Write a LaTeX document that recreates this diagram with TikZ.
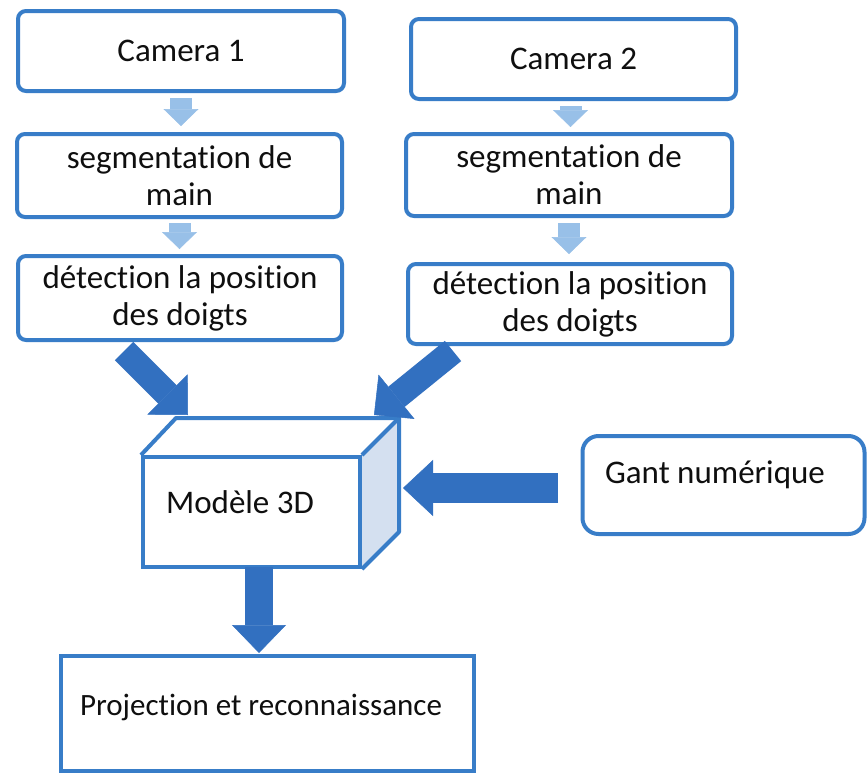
\documentclass[tikz,border=0pt]{standalone}
\usepackage{fontspec}
\setmainfont{Carlito}[Ligatures=NoCommon]
\usetikzlibrary{arrows.meta,calc}
\definecolor{boxblue}{RGB}{56,125,200}
\definecolor{arrowblue}{RGB}{50,112,192}
\definecolor{lightarrow}{RGB}{152,192,232}
\definecolor{sideface}{RGB}{212,224,240}
\definecolor{txt}{RGB}{15,15,15}
\begin{document}
\begin{tikzpicture}[x=1pt,y=-1pt,
  box/.style={draw=boxblue, line width=4pt, rounded corners=8pt, fill=white, text=txt,
              align=center, font=\fontsize{33}{37}\selectfont, inner sep=0pt},
  plainbox/.style={draw=boxblue, line width=4pt, fill=white, inner sep=0pt},
  lbl/.style={text=txt, font=\fontsize{33}{37}\selectfont, inner sep=0pt},
  smallarrow/.style={draw=lightarrow, line width=22pt,
              -{Triangle[length=17pt,width=35pt,line width=0.5pt]}},
  bigarrow/.style={draw=arrowblue, line width=26pt,
              -{Triangle[length=29pt,width=57pt,line width=0.5pt]}}]
\fill[white] (0,0) rectangle (868,774);
\useasboundingbox (0,0) rectangle (868,774);

% left column
\node[box, minimum width=326pt, minimum height=80pt] (cam1) at (181,51) {Camera 1};
\node[box, minimum width=325pt, minimum height=83pt] (seg1) at (179.5,175.5) {segmentation de\\main};
\node[box, minimum width=324pt, minimum height=84pt] (det1) at (180,298) {détection la position\\des doigts};

% right column
\node[box, minimum width=325pt, minimum height=80pt] (cam2) at (573.5,59) {Camera 2};
\node[box, minimum width=326pt, minimum height=82pt] (seg2) at (569,175) {segmentation de\\main};
\node[box, minimum width=324pt, minimum height=80pt] (det2) at (570,304) {détection la position\\des doigts};

% glove
\node[box, rounded corners=16pt, minimum width=282pt, minimum height=98pt] (gant) at (723.5,485) {};
\node[lbl] (gantlbl) at (715,475) {Gant numérique};

% 3D model cube
\node[plainbox, minimum width=217pt, minimum height=110pt] (cube) at (251.5,512) {};
\fill[sideface] (cube.north east) -- ($(cube.north east)+(37,-37)$) -- ($(cube.south east)+(37,-37)$) -- (cube.south east) -- cycle;
\draw[draw=boxblue, line width=4pt, line join=round]
  (cube.north west) -- ($(cube.north west)+(35,-37)$) -- ($(cube.north east)+(37,-37)$)
  -- ($(cube.south east)+(37,-37)$) -- (cube.south east);
\draw[draw=boxblue, line width=4pt] (cube.north east) -- ($(cube.north east)+(37,-37)$);
\node[lbl] (cubelbl) at (240,502) {Modèle 3D};

% projection
\node[plainbox, minimum width=413pt, minimum height=115pt] (proj) at (267.5,713.5) {};
\node[lbl, font=\fontsize{31}{36}\selectfont] (projlbl) at (261,707) {Projection et reconnaissance};

% small arrows
\draw[smallarrow, shorten <=5pt, shorten >=6pt] (cam1.south) -- (cam1.south |- seg1.north);
\draw[smallarrow, shorten <=4pt, shorten >=5pt] (seg1.south) -- (seg1.south |- det1.north);
\draw[smallarrow, shorten <=5pt, shorten >=5pt] ($(cam2.south)+(-3,0)$) -- ($(cam2.south |- seg2.north)+(-3,0)$);
\draw[smallarrow, shorten <=5pt, shorten >=8pt] (seg2.south) -- (seg2.south |- det2.north);

% big arrows
\coordinate (t1) at (124,351);
\coordinate (h1) at (188,415);
\coordinate (t2) at (453,351);
\coordinate (h2) at (374,415);
\coordinate (t3) at (558,488);
\coordinate (h3) at (403,488);
\coordinate (t4) at (259,567);
\coordinate (h4) at (259,653);
\draw[bigarrow] (t1) -- (h1);
\draw[bigarrow] (t2) -- (h2);
\draw[bigarrow, line width=30pt, -{Triangle[length=30pt,width=56pt,line width=0.5pt]}] (t3) -- (h3);
\draw[bigarrow, line width=28pt, -{Triangle[length=28pt,width=54pt,line width=0.5pt]}] (t4) -- (h4);
\end{tikzpicture}
\end{document}
